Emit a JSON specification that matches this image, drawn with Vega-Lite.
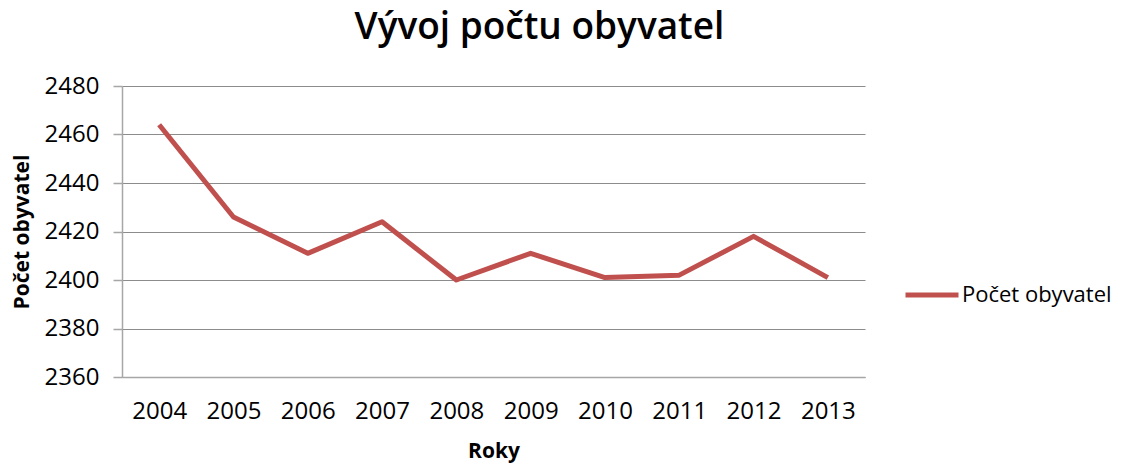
{
  "$schema": "https://vega.github.io/schema/vega-lite/v6.json",
  "width": 743,
  "height": 291,
  "autosize": {"type": "none"},
  "padding": {"left": 122, "top": 86, "right": 258, "bottom": 87},
  "background": "white",
  "config": {
    "font": "Open Sans",
    "view": {"stroke": null},
    "axis": {"labelColor": "#000000", "titleColor": "#000000"}
  },
  "title": {
    "text": "Vývoj počtu obyvatel",
    "font": "Open Sans",
    "fontSize": 37,
    "fontWeight": 600,
    "color": "#000000",
    "anchor": "middle",
    "dx": 46,
    "offset": 27
  },
  "data": {
    "values": [
      {"rok": "2004", "pocet": 2464, "serie": "Počet obyvatel"},
      {"rok": "2005", "pocet": 2426, "serie": "Počet obyvatel"},
      {"rok": "2006", "pocet": 2411, "serie": "Počet obyvatel"},
      {"rok": "2007", "pocet": 2424, "serie": "Počet obyvatel"},
      {"rok": "2008", "pocet": 2400, "serie": "Počet obyvatel"},
      {"rok": "2009", "pocet": 2411, "serie": "Počet obyvatel"},
      {"rok": "2010", "pocet": 2401, "serie": "Počet obyvatel"},
      {"rok": "2011", "pocet": 2402, "serie": "Počet obyvatel"},
      {"rok": "2012", "pocet": 2418, "serie": "Počet obyvatel"},
      {"rok": "2013", "pocet": 2401, "serie": "Počet obyvatel"}
    ]
  },
  "mark": {"type": "line", "strokeWidth": 5, "strokeJoin": "round"},
  "encoding": {
    "x": {
      "field": "rok",
      "type": "ordinal",
      "scale": {"type": "point", "padding": 0.5},
      "axis": {
        "title": "Roky",
        "titleFontSize": 21,
        "titleFontWeight": "bold",
        "titlePadding": 17,
        "labelAngle": 0,
        "labelFontSize": 24,
        "labelPadding": 22,
        "ticks": false,
        "domainColor": "#A6A6A6",
        "domainWidth": 1.5,
        "grid": false
      }
    },
    "y": {
      "field": "pocet",
      "type": "quantitative",
      "scale": {"domain": [2360, 2480], "nice": false, "zero": false},
      "axis": {
        "title": "Počet obyvatel",
        "titleFontSize": 21,
        "titleFontWeight": "bold",
        "titlePadding": 12,
        "values": [2360, 2380, 2400, 2420, 2440, 2460, 2480],
        "format": "d",
        "labelFontSize": 24,
        "labelPadding": 14,
        "tickSize": 9,
        "tickColor": "#A6A6A6",
        "tickWidth": 1.5,
        "domainColor": "#A6A6A6",
        "domainWidth": 1.5,
        "gridColor": "#8C8C8C",
        "gridWidth": 1.2
      }
    },
    "color": {
      "field": "serie",
      "type": "nominal",
      "scale": {"range": ["#C0504D"]},
      "legend": {
        "title": null,
        "orient": "none",
        "legendX": 781,
        "legendY": 180,
        "symbolType": "stroke",
        "symbolSize": 2809,
        "symbolStrokeWidth": 5,
        "labelFontSize": 22,
        "labelColor": "#000000",
        "labelOffset": 1
      }
    }
  }
}
